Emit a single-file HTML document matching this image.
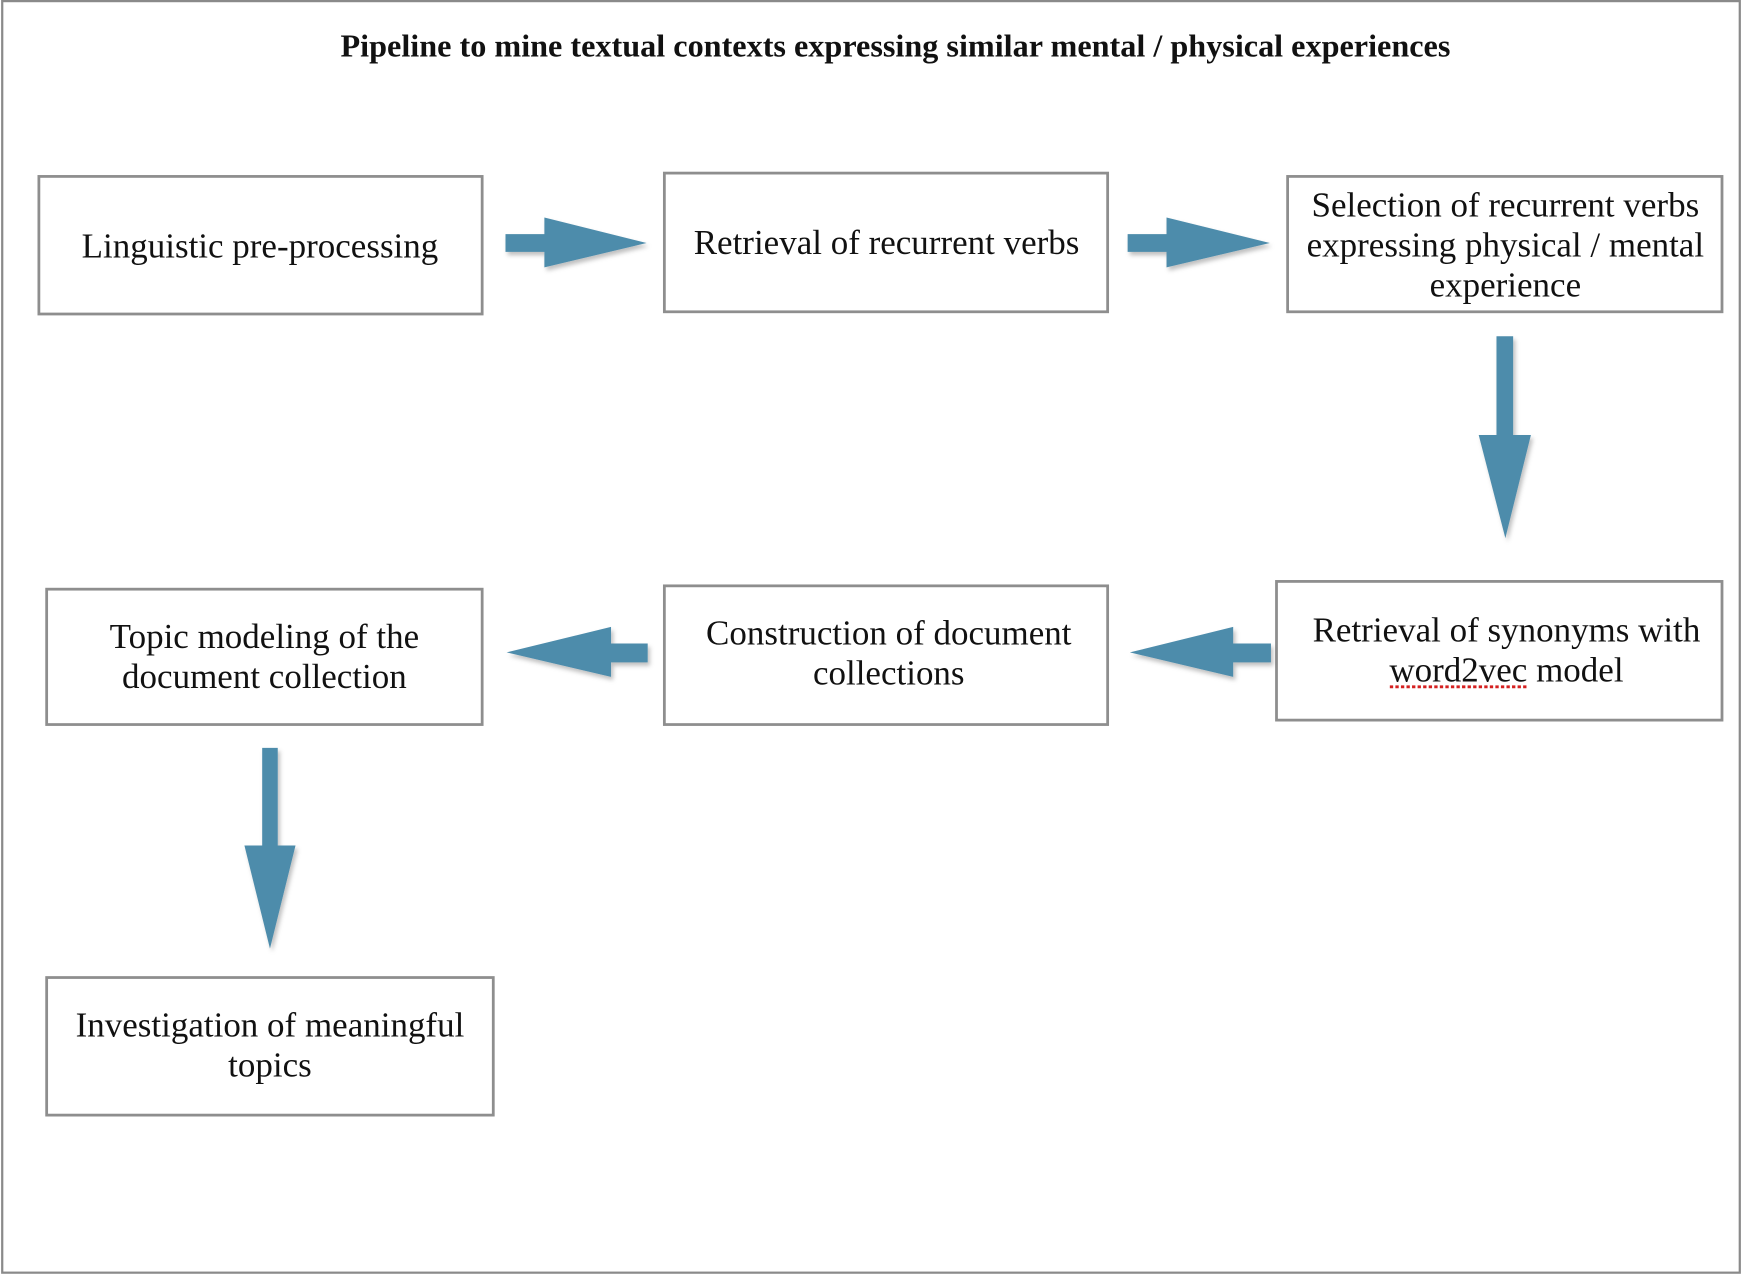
<!DOCTYPE html>
<html><head><meta charset="utf-8"><style>
html,body{margin:0;padding:0;background:#fff;}
svg{display:block}
text{font-family:"Liberation Serif",serif;fill:#111;}
</style></head><body>
<svg width="1742" height="1276" viewBox="0 0 1568 1150" preserveAspectRatio="none" xmlns="http://www.w3.org/2000/svg">
<defs><filter id="sh" x="-20%" y="-20%" width="140%" height="140%"><feDropShadow dx="2" dy="3" stdDeviation="2" flood-color="#000" flood-opacity="0.25"/></filter></defs>
<rect x="2" y="1" width="1564" height="1146" fill="#fff" stroke="#8a8a8a" stroke-width="2"/>
<text x="806" y="51" text-anchor="middle" font-weight="bold" font-size="29">Pipeline to mine textual contexts expressing similar mental / physical experiences</text>
<g fill="#fff" stroke="#8e8e8e" stroke-width="2.5">
<rect x="35" y="159" width="399" height="124"/>
<rect x="598" y="156" width="399" height="125"/>
<rect x="1159" y="159" width="391" height="122"/>
<rect x="1149" y="524" width="401" height="125"/>
<rect x="598" y="528" width="399" height="125"/>
<rect x="42" y="531" width="392" height="122"/>
<rect x="42" y="881" width="402" height="124"/>
</g>
<g font-size="31.5" text-anchor="middle">
<text x="234" y="232">Linguistic pre-processing</text>
<text x="798" y="229">Retrieval of recurrent verbs</text>
<text x="1355" y="195">Selection of recurrent verbs</text>
<text x="1355" y="231">expressing physical / mental</text>
<text x="1355" y="267">experience</text>
<text x="1356" y="578">Retrieval of synonyms with</text>
<text x="1356" y="614">word2vec model</text>
<text x="800" y="581">Construction of document</text>
<text x="800" y="617">collections</text>
<text x="238" y="584">Topic modeling of the</text>
<text x="238" y="620">document collection</text>
<text x="243" y="934">Investigation of meaningful</text>
<text x="243" y="970">topics</text>
</g>
<line x1="1251" y1="619" x2="1374" y2="619" stroke="#d42020" stroke-width="2.5" stroke-dasharray="3,2"/>
<g fill="#4e8cab" filter="url(#sh)">
<polygon points="455,211 490,211 490,196 582,219 490,241 490,227 455,227"/>
<polygon points="1015,211 1050,211 1050,196 1143,219 1050,241 1050,227 1015,227"/>
<polygon points="1347,303 1362,303 1362,392 1378,392 1355,485 1331,392 1347,392"/>
<polygon points="1144,580 1110,580 1110,565 1017,588 1110,610 1110,597 1144,597"/>
<polygon points="583,580 550,580 550,565 456,588 550,610 550,597 583,597"/>
<polygon points="236,674 250,674 250,762 266,762 243,855 220,762 236,762"/>
</g>
</svg>
</body></html>
